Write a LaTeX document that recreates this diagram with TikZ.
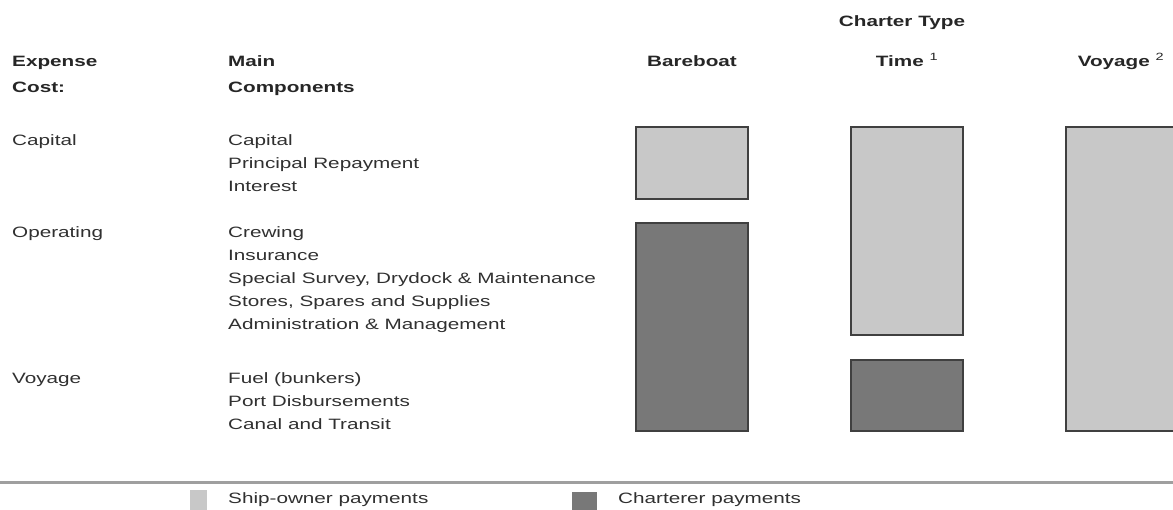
\documentclass[tikz,border=0pt]{standalone}
\usepackage{fontspec}
\setmainfont{Liberation Sans}[FakeStretch=1.38]
\usepackage{xcolor}
\definecolor{ownergray}{HTML}{C8C8C8}
\definecolor{chartgray}{HTML}{787878}
\definecolor{edgegray}{HTML}{404040}
\definecolor{textgray}{HTML}{303030}

\begin{document}
\begin{tikzpicture}[x=1pt,y=-1pt,
    txt/.style={anchor=base west,inner sep=0pt,text=textgray,font=\fontsize{15}{18}\selectfont},
    head/.style={txt,text=black!85,font=\fontsize{15}{18}\selectfont\bfseries},
    colhead/.style={head,anchor=base},
    owner/.style={fill=ownergray,draw=edgegray,line width=1.4pt},
    charterer/.style={fill=chartgray,draw=edgegray,line width=1.4pt}]
                \useasboundingbox (0,0) rectangle (1173,509);
                \clip (0,0) rectangle (1173,509);

                % column headings
                \node[colhead] (chartertype) at (902,26) {Charter Type};
                \node[colhead] (bareboat) at (692,66) {Bareboat};
                \node[colhead] (time) at (907,66) {Time \textmd{\textsuperscript{1}}};
                \node[colhead] (voyagehead) at (1121,66) {Voyage \textmd{\textsuperscript{2}}};
                \node[head] (expense) at (12,66) {Expense};
                \node[head] (cost) at (12,92) {Cost:};
                \node[head] (main) at (228,66) {Main};
                \node[head] (components) at (228,92) {Components};

                % expense rows
                \node[txt] (capital) at (12,145) {Capital};
                \node[txt] (operating) at (12,237) {Operating};
                \node[txt] (voyage) at (12,383) {Voyage};

                \node[txt] (c1) at (228,145) {Capital};
                \node[txt] (c2) at (228,168) {Principal Repayment};
                \node[txt] (c3) at (228,191) {Interest};
                \node[txt] (o1) at (228,237) {Crewing};
                \node[txt] (o2) at (228,260) {Insurance};
                \node[txt] (o3) at (228,283) {Special Survey, Drydock \& Maintenance};
                \node[txt] (o4) at (228,306) {Stores, Spares and Supplies};
                \node[txt] (o5) at (228,329) {Administration \& Management};
                \node[txt] (v1) at (228,383) {Fuel (bunkers)};
                \node[txt] (v2) at (228,406) {Port Disbursements};
                \node[txt] (v3) at (228,429) {Canal and Transit};

                % bars
                \draw[owner] (636,127) rectangle (748,199);
                \draw[charterer] (636,223) rectangle (748,431);
                \draw[owner] (851,127) rectangle (963,335);
                \draw[charterer] (851,360) rectangle (963,431);
                \draw[owner] (1066,127) rectangle (1180,431);

                % legend
                \draw[gray!75,line width=3pt] (0,482) -- (1173,482);
                \fill[ownergray] (190,490) rectangle (207,512);
                \node[txt] (ownerkey) at (228,503) {Ship-owner payments};
                \fill[chartgray] (572,492) rectangle (597,512);
                \node[txt] (charterkey) at (618,503) {Charterer payments};
            \end{tikzpicture}
\end{document}
